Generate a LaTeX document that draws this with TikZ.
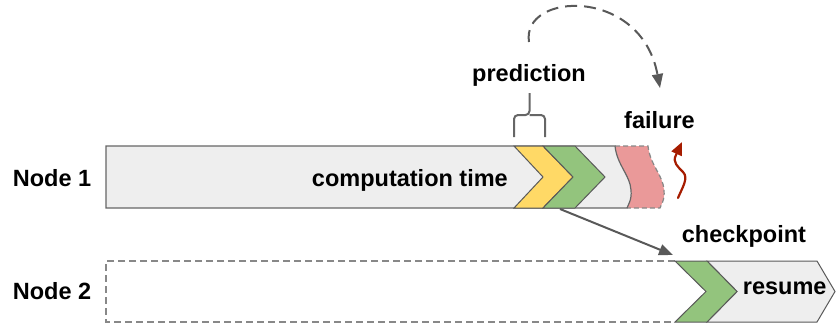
\documentclass[tikz,border=0pt]{standalone}
\usepackage{fontspec}
\setmainfont{Liberation Sans}
\usetikzlibrary{arrows.meta}
\definecolor{barfill}{HTML}{EEEEEE}
\definecolor{edge}{HTML}{666666}
\definecolor{predfill}{HTML}{FFD966}
\definecolor{ckptfill}{HTML}{93C47D}
\definecolor{failfill}{HTML}{EA9999}
\definecolor{boltred}{HTML}{A61C00}
\definecolor{conn}{HTML}{595959}
\definecolor{ghost}{HTML}{888888}

\begin{document}
\begin{tikzpicture}[x=1pt,y=-1pt,
  lbl/.style={font=\fontsize{23.5}{27}\selectfont\bfseries, inner sep=0pt},
  bar/.style={draw=edge, line width=1.2pt, line join=miter},
  chev/.style={draw=conn, line width=1pt, line join=miter},
  ghostbox/.style={draw=ghost, line width=1.2pt, dash pattern=on 7pt off 4pt},
  faildash/.style={draw=ghost, line width=1.2pt, dash pattern=on 5pt off 3pt},
  connector/.style={draw=conn, line width=2pt, -{Triangle[length=14pt,width=11pt]}},
  brace/.style={draw=edge, line width=2pt, rounded corners=4pt},
  bolt/.style={draw=boltred, line width=2.2pt, line cap=round, -{Triangle[length=13pt,width=11pt]}}]
\useasboundingbox (0,0) rectangle (837,325);

% ---------- Node 1 timeline ----------
% failed segment (torn edges)
\fill[failfill] (615,146) -- (648,146)
  .. controls (650,165) and (663,175) .. (664,190)
  .. controls (665,200) and (661,205) .. (660,208)
  -- (627,208)
  .. controls (628,205) and (632,200) .. (631,190)
  .. controls (630,175) and (617,165) .. (615,146) -- cycle;
\draw[faildash] (615,146) -- (648,146)
  .. controls (650,165) and (663,175) .. (664,190)
  .. controls (665,200) and (661,205) .. (660,208)
  -- (627,208);
% computation bar
\path[bar, fill=barfill] (106,146) -- (615,146)
  .. controls (617,165) and (630,175) .. (631,190)
  .. controls (632,200) and (628,205) .. (627,208)
  -- (106,208) -- cycle;
% prediction and checkpoint chevrons
\path[chev, fill=predfill] (514,146) -- (543,146) -- (573,177) -- (543,208) -- (514,208) -- (543,177) -- cycle;
\path[chev, fill=ckptfill] (543,146) -- (575,146) -- (605,177) -- (575,208) -- (543,208) -- (573,177) -- cycle;

% ---------- Node 2 timeline ----------
\draw[ghostbox] (675,261) -- (106,261) -- (106,322) -- (675,322);
\path[chev, fill=barfill] (707,261) -- (817,261) -- (835,291.5) -- (817,322) -- (707,322) -- (737,291.5) -- cycle;
\path[chev, fill=ckptfill] (675,261) -- (707,261) -- (737,291.5) -- (707,322) -- (675,322) -- (706,291.5) -- cycle;

% ---------- labels ----------
\node[lbl, anchor=base west] (n1) at (12.7,186.7) {Node 1};
\node[lbl, anchor=base west] (n2) at (12.7,299.5) {Node 2};
\node[lbl, anchor=base east] (ct) at (508,186.7) {computation time};
\node[lbl, anchor=base east] (pr) at (586,81.7) {prediction};
\node[lbl, anchor=base west] (fa) at (624,128.3) {failure};
\node[lbl, anchor=base west] (cp) at (681.7,242.7) {checkpoint};
\node[lbl, anchor=base west] (rs) at (742.7,294.3) {resume};

% ---------- brace over the prediction window ----------
\draw[brace] (514,137) -- (514,115) -- (529.5,115) -- (529.5,93);
\draw[brace] (545,137) -- (545,115) -- (529.5,115);

% ---------- connectors ----------
\coordinate (predtop) at (529,42);
\coordinate (failtop) at (660,88);
\draw[connector, dash pattern=on 12pt off 7pt] (predtop) .. controls (521,-8) and (641,-14) .. (failtop);

\coordinate (cpsrc) at (560,209);
\coordinate (cpdst) at (673,255);
\draw[connector] (cpsrc) -- (cpdst);

\coordinate (boltbase) at (678,198);
\coordinate (bolttip) at (682,142);
\draw[bolt] (boltbase) .. controls (682,188) and (689,178) .. (683,172)
  .. controls (678,167) and (672,162) .. (676,155) -- (bolttip);
\end{tikzpicture}
\end{document}
